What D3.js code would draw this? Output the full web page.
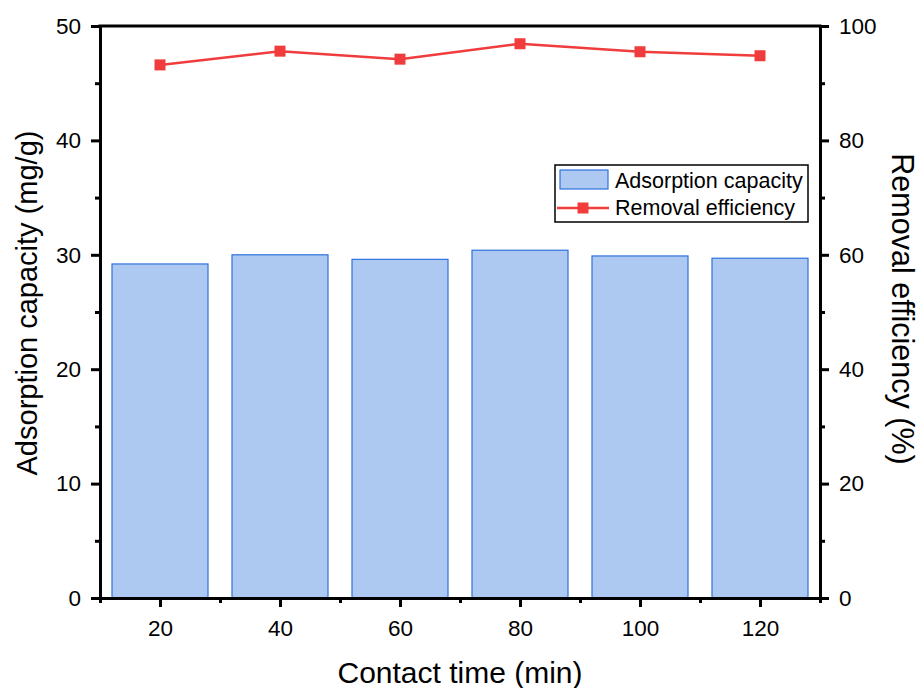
<!DOCTYPE html>
<html>
<head>
<meta charset="utf-8">
<script src="https://cdn.jsdelivr.net/npm/d3@7"></script>
<style>
  body { margin: 0; background: #fff; }
  text { font-family: "Liberation Sans", Arial, sans-serif; fill: #000; }
</style>
</head>
<body>
<svg id="chart" width="922" height="688"></svg>
<script>
// 数据
const times = [20, 40, 60, 80, 100, 120];
const capacity = [29.2, 30.0, 29.6, 30.4, 29.9, 29.7];
const efficiency = [93.2, 95.6, 94.2, 96.9, 95.5, 94.8];
const xTicks = [20, 40, 60, 80, 100, 120];
const leftTicks = [0, 10, 20, 30, 40, 50];
const rightTicks = [0, 20, 40, 60, 80, 100];

const svg = d3.select('#chart');
const m = { left: 100, right: 820, top: 26, bottom: 598 };

const x = d3.scaleLinear().domain([10, 130]).range([m.left, m.right]);
const yL = d3.scaleLinear().domain([0, 50]).range([m.bottom, m.top]);
const yR = d3.scaleLinear().domain([0, 100]).range([m.bottom, m.top]);

const barColor = '#adc9f1';
const barStroke = '#2f72de';
const lineColor = '#f03c3c';
const tickFont = '22.5px';

// 柱子
svg.append('g').selectAll('rect')
    .data(times)
    .join('rect')
    .attr('x', (d, i) => x(d - 8))
    .attr('y', (d, i) => yL(capacity[i]))
    .attr('width', x(16) - x(0))
    .attr('height', (d, i) => yL(0) - yL(capacity[i]))
    .attr('fill', barColor)
    .attr('stroke', barStroke)
    .attr('stroke-width', 1.2);

// 折线
const line = d3.line()
    .x((d, i) => x(times[i]))
    .y(d => yR(d));

svg.append('path')
    .datum(efficiency)
    .attr('d', line)
    .attr('fill', 'none')
    .attr('stroke', lineColor)
    .attr('stroke-width', 2.5);

svg.append('g').selectAll('rect')
    .data(efficiency)
    .join('rect')
    .attr('x', (d, i) => x(times[i]) - 5.5)
    .attr('y', d => yR(d) - 5.5)
    .attr('width', 11)
    .attr('height', 11)
    .attr('fill', lineColor);

// 坐标轴
function styleAxis(g) {
    g.select('.domain').attr('stroke-width', 3);
    g.selectAll('.tick line').attr('stroke-width', 3);
    g.selectAll('.tick text').style('font-size', tickFont);
}

const xAxis = svg.append('g')
    .attr('transform', `translate(0,${m.bottom})`)
    .call(d3.axisBottom(x).tickValues(xTicks).tickSize(9).tickSizeOuter(0).tickPadding(13));
styleAxis(xAxis);

// 次刻度
svg.append('g')
    .attr('transform', `translate(0,${m.bottom})`)
    .call(d3.axisBottom(x).tickValues([10, 30, 50, 70, 90, 110, 130]).tickSize(5).tickFormat(''))
    .call(g => g.select('.domain').remove())
    .selectAll('.tick line').attr('stroke-width', 3);

const leftAxis = svg.append('g')
    .attr('transform', `translate(${m.left},0)`)
    .call(d3.axisLeft(yL).tickValues(leftTicks).tickSize(9).tickSizeOuter(0).tickPadding(10));
styleAxis(leftAxis);

svg.append('g')
    .attr('transform', `translate(${m.left},0)`)
    .call(d3.axisLeft(yL).tickValues([5, 15, 25, 35, 45]).tickSize(5).tickFormat(''))
    .call(g => g.select('.domain').remove())
    .selectAll('.tick line').attr('stroke-width', 3);

const rightAxis = svg.append('g')
    .attr('transform', `translate(${m.right},0)`)
    .call(d3.axisRight(yR).tickValues(rightTicks).tickSize(9).tickSizeOuter(0).tickPadding(10));
styleAxis(rightAxis);

svg.append('g')
    .attr('transform', `translate(${m.right},0)`)
    .call(d3.axisRight(yR).tickValues([10, 30, 50, 70, 90]).tickSize(5).tickFormat(''))
    .call(g => g.select('.domain').remove())
    .selectAll('.tick line').attr('stroke-width', 3);

// 上边框
svg.append('line')
    .attr('x1', m.left - 1.5).attr('x2', m.right + 1.5)
    .attr('y1', m.top).attr('y2', m.top)
    .attr('stroke', '#000').attr('stroke-width', 3);

// 标题
svg.append('text')
    .attr('x', 460)
    .attr('y', 683)
    .attr('text-anchor', 'middle')
    .style('font-size', '30px')
    .text('Contact time (min)');

svg.append('text')
    .attr('transform', 'translate(37,303) rotate(-90)')
    .attr('text-anchor', 'middle')
    .style('font-size', '29px')
    .text('Adsorption capacity (mg/g)');

svg.append('text')
    .attr('transform', 'translate(892,309) rotate(90)')
    .attr('text-anchor', 'middle')
    .style('font-size', '30.5px')
    .text('Removal efficiency (%)');

// 图例
const lg = svg.append('g').attr('transform', 'translate(555,165)');
lg.append('rect')
    .attr('width', 253).attr('height', 57)
    .attr('fill', '#fff').attr('stroke', '#000').attr('stroke-width', 1.5);
lg.append('rect')
    .attr('x', 5).attr('y', 5).attr('width', 48).attr('height', 19)
    .attr('fill', barColor).attr('stroke', barStroke).attr('stroke-width', 1.2);
lg.append('text').attr('x', 60).attr('y', 23).style('font-size', '21.5px').text('Adsorption capacity');
lg.append('line')
    .attr('x1', 2).attr('x2', 54).attr('y1', 43).attr('y2', 43)
    .attr('stroke', lineColor).attr('stroke-width', 2.5);
lg.append('rect')
    .attr('x', 22.5).attr('y', 37.5).attr('width', 11).attr('height', 11)
    .attr('fill', lineColor);
lg.append('text').attr('x', 60).attr('y', 50).style('font-size', '21.5px').text('Removal efficiency');
</script>
</body>
</html>
